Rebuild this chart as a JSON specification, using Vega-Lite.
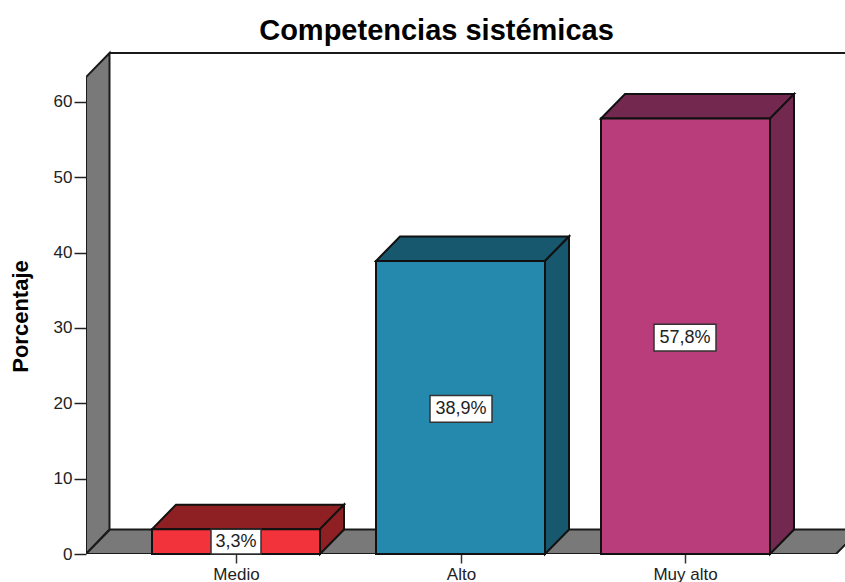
{
 "$schema":"https://vega.github.io/schema/vega-lite/v6.json",
 "width":759,"height":514,
 "padding":{"left":86,"top":40,"right":0,"bottom":28},
 "autosize":{"type":"none"},
 "background":"white",
 "title":{"text":"Competencias sistémicas","font":"Liberation Sans","fontSize":29,"fontWeight":"bold","color":"#000000","anchor":"middle","dx":-29,"offset":-6},
 "config":{"view":{"stroke":null}},
 "datasets":{
  "bars":[
   {"categoria":"Medio","porcentaje":3.3,"inicio":66,"fin":234},
   {"categoria":"Alto","porcentaje":38.9,"inicio":290,"fin":459},
   {"categoria":"Muy alto","porcentaje":57.8,"inicio":515,"fin":684}],
  "caras":[
   {"cara":"Pared","grupo":"pared","x":0,"bajo":0,"alto":63.3},
   {"cara":"Pared","grupo":"pared","x":23.5,"bajo":3.25,"alto":66.5},
   {"cara":"Pared","grupo":"suelo","x":0,"bajo":0,"alto":0},
   {"cara":"Pared","grupo":"suelo","x":24,"bajo":0,"alto":3.25},
   {"cara":"Pared","grupo":"suelo","x":750,"bajo":0,"alto":3.25},
   {"cara":"Pared","grupo":"suelo","x":774,"bajo":3.25,"alto":3.25},
   {"cara":"Medio","grupo":"m1","x":66,"bajo":3.3,"alto":3.3},
   {"cara":"Medio","grupo":"m1","x":90,"bajo":3.3,"alto":6.55},
   {"cara":"Medio","grupo":"m1","x":234,"bajo":3.3,"alto":6.55},
   {"cara":"Medio","grupo":"m1","x":258,"bajo":6.55,"alto":6.55},
   {"cara":"Medio","grupo":"m2","x":234,"bajo":0,"alto":3.3},
   {"cara":"Medio","grupo":"m2","x":258,"bajo":3.25,"alto":6.55},
   {"cara":"Alto","grupo":"a1","x":290,"bajo":38.9,"alto":38.9},
   {"cara":"Alto","grupo":"a1","x":314,"bajo":38.9,"alto":42.15},
   {"cara":"Alto","grupo":"a1","x":459,"bajo":38.9,"alto":42.15},
   {"cara":"Alto","grupo":"a1","x":483,"bajo":42.15,"alto":42.15},
   {"cara":"Alto","grupo":"a2","x":459,"bajo":0,"alto":38.9},
   {"cara":"Alto","grupo":"a2","x":483,"bajo":3.25,"alto":42.15},
   {"cara":"Muy alto","grupo":"u1","x":515,"bajo":57.8,"alto":57.8},
   {"cara":"Muy alto","grupo":"u1","x":539,"bajo":57.8,"alto":61.05},
   {"cara":"Muy alto","grupo":"u1","x":684,"bajo":57.8,"alto":61.05},
   {"cara":"Muy alto","grupo":"u1","x":708,"bajo":61.05,"alto":61.05},
   {"cara":"Muy alto","grupo":"u2","x":684,"bajo":0,"alto":57.8},
   {"cara":"Muy alto","grupo":"u2","x":708,"bajo":3.25,"alto":61.05}],
  "etiquetas":[
   {"texto":"3,3%","centro":150,"izq":125,"der":175,"y":1.55,"inf":0,"sup":3.3},
   {"texto":"38,9%","centro":375,"izq":344,"der":406,"y":19.2,"inf":17.5,"sup":21.05},
   {"texto":"57,8%","centro":599,"izq":568,"der":630,"y":28.65,"inf":26.95,"sup":30.5}],
  "techo":[{"x":23.5,"x2":759,"y":66.5}]
 },
 "layer":[
  {"data":{"name":"caras"},
   "transform":[{"filter":"datum.cara=='Pared'"}],
   "mark":{"type":"area","stroke":"#1a1a1a","strokeWidth":2,"clip":true,"color":"#797979"},
   "encoding":{
    "x":{"field":"x","type":"quantitative","scale":{"domain":[0,759],"nice":false,"zero":false},
     "axis":{"title":null,"grid":false,"domain":false,"values":[150,375,599],
      "labelExpr":"datum.value==150?'Medio':datum.value==375?'Alto':'Muy alto'",
      "tickColor":"#333333","tickSize":9,"tickWidth":1.5,"labelFont":"Liberation Sans","labelFontSize":17,"labelColor":"#222222","labelPadding":3}},
    "y":{"field":"bajo","type":"quantitative","stack":null,"scale":{"domain":[0,68.23],"nice":false},
     "axis":{"title":"Porcentaje","titleFont":"Liberation Sans","titleFontSize":22,"titleFontWeight":"bold","titleColor":"#000000","titleX":-54,"titleY":276,
      "grid":false,"domain":false,"values":[0,10,20,30,40,50,60],"tickColor":"#222222","tickSize":12,"tickWidth":1.5,"labelFont":"Liberation Sans","labelFontSize":17,"labelColor":"#222222","labelPadding":2}},
    "y2":{"field":"alto"},
    "detail":{"field":"grupo"}}},
  {"data":{"name":"techo"},
   "mark":{"type":"rule","stroke":"#1a1a1a","strokeWidth":2},
   "encoding":{"x":{"field":"x","type":"quantitative"},"x2":{"field":"x2"},"y":{"field":"y","type":"quantitative"}}},
  {"data":{"name":"caras"},
   "transform":[{"filter":"datum.cara!='Pared'"}],
   "mark":{"type":"area","stroke":"#111111","strokeWidth":2},
   "encoding":{
    "x":{"field":"x","type":"quantitative"},
    "y":{"field":"bajo","type":"quantitative","stack":null},
    "y2":{"field":"alto"},
    "detail":{"field":"grupo"},
    "color":{"field":"cara","type":"nominal","legend":null,"scale":{"domain":["Medio","Alto","Muy alto"],"range":["#8e2023","#17586e","#72284f"]}}}},
  {"data":{"name":"bars"},
   "mark":{"type":"rect","stroke":"#111111","strokeWidth":2},
   "encoding":{
    "x":{"field":"inicio","type":"quantitative"},"x2":{"field":"fin"},
    "y":{"field":"porcentaje","type":"quantitative"},"y2":{"datum":0},
    "fill":{"field":"categoria","type":"nominal","legend":null,"scale":{"domain":["Medio","Alto","Muy alto"],"range":["#f2333b","#2589ad","#b93d7b"]}}}},
  {"data":{"name":"etiquetas"},
   "mark":{"type":"rect","fill":"white","stroke":"#333333","strokeWidth":1.5},
   "encoding":{"x":{"field":"izq","type":"quantitative"},"x2":{"field":"der"},"y":{"field":"inf","type":"quantitative"},"y2":{"field":"sup"}}},
  {"data":{"name":"etiquetas"},
   "mark":{"type":"text","font":"Liberation Sans","fontSize":18,"color":"#222222","align":"center","baseline":"middle"},
   "encoding":{"x":{"field":"centro","type":"quantitative"},"y":{"field":"y","type":"quantitative"},"text":{"field":"texto"}}}
 ]
}
